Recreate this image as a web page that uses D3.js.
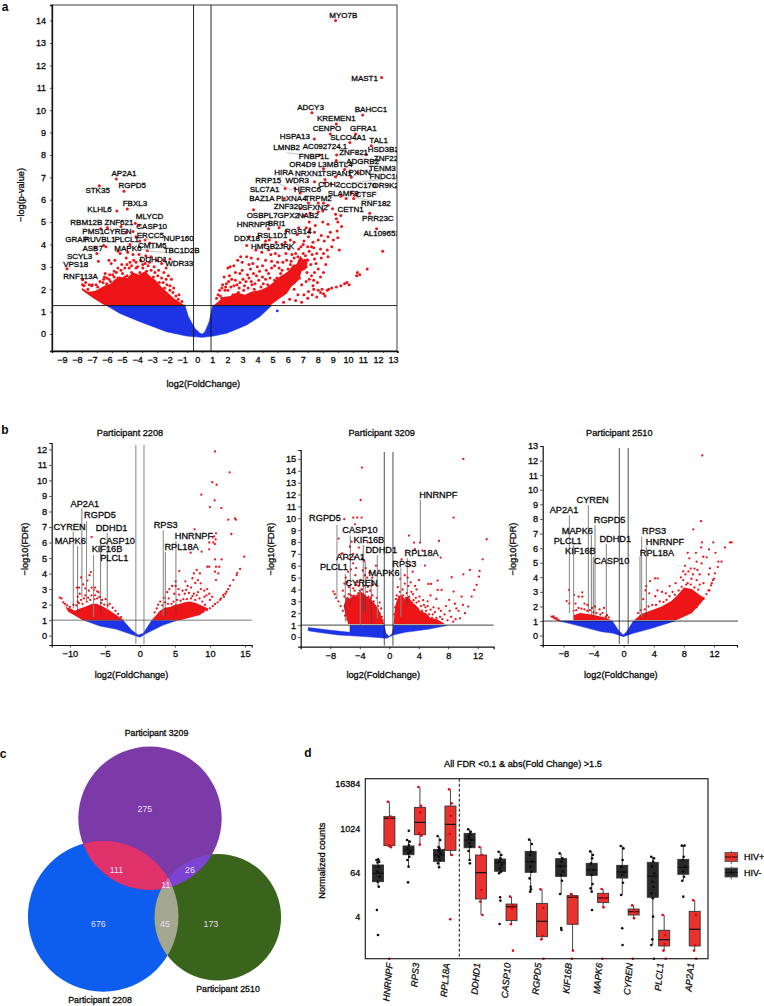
<!DOCTYPE html>
<html><head><meta charset="utf-8">
<script src="https://cdn.jsdelivr.net/npm/d3@7/dist/d3.min.js"></script>
<style>
html,body{margin:0;padding:0;background:#fff}
svg{display:block}
text{font-family:"Liberation Sans",Arial,sans-serif;fill:#0a0a0a}
</style></head><body>
<svg id="fig" width="764" height="1006"></svg>
<script>
const RED="#ee1518", BLUE="#1c33e6";

/* ---------- Panel a: values read in axis units (log2FC, -log p) ---------- */
const aXTicks=[-9,-8,-7,-6,-5,-4,-3,-2,-1,0,1,2,3,4,5,6,7,8,9,10,11,12,13];
const aYTicks=[0,1,2,3,4,5,6,7,8,9,10,11,12,13,14];
const aBlueOutline=[[-6.35,1.27],[-1.15,1.27],[-0.93,.78],[-.49,.25],[-.15,.03],[0,0],[.18,.1],[.46,.55],[.69,1.27],[4.6,1.27],[3.83,.78],[2.94,.4],[1.62,.03],[.73,-.09],[0,-.15],[-1.04,-.09],[-2.37,.1],[-4.14,.55],[-5.47,.92]];
const aRedLeftOutline=[[-8,2.05],[-7.6,1.9],[-7.24,1.9],[-6.9,2],[-6.5,2.15],[-6.1,2.25],[-5.8,2.45],[-5.4,2.55],[-5,2.5],[-4.6,2.75],[-4.2,2.65],[-3.8,2.8],[-3.4,2.55],[-3.1,2.4],[-2.7,2.1],[-2.3,1.85],[-1.9,1.6],[-1.15,1.27],[-6.46,1.27],[-7.24,1.6],[-8.01,1.97]];
const aRedRightOutline=[[.75,1.27],[4.5,1.27],[5.16,1.6],[5.6,1.8],[5.93,2.12],[6.4,2.4],[6.6,2.8],[6.9,2.9],[7.04,3.4],[6.75,3.3],[6.5,3.5],[6.25,3.1],[6.04,3.1],[5.7,2.8],[5.49,2.7],[5.1,2.55],[4.71,2.3],[4.3,2.1],[3.83,1.95],[3.3,1.9],[2.83,1.75],[2.3,1.85],[1.84,1.7],[1.4,1.65],[1.06,1.45]];
const aPoints=[
[8.85,14.01],[11.91,11.46],[7.28,9.88],[10.65,9.79],[8.9,9.38],[8.5,8.94],[10.18,8.94],[7.44,8.71],[9.8,8.56],[11.22,8.41],[8.92,8],[10.89,8.02],[7.8,8],[8.9,7.75],[9.45,7.35],[8.05,7.38],[8.85,7.03],[10.35,7.2],[9.9,7],[8.15,6.9],[8.1,6.75],[7.45,6.8],[6.15,6.5],[5.5,6.5],[6.5,6.3],[5.45,6.05],[8.55,6.7],[10.1,6.2],[10.05,6.05],[9.9,6.3],[9.55,6.05],[9.2,6.15],[7.7,5.85],[8.05,5.85],[8.35,5.75],[7.05,5.85],[6.5,5.6],[6.75,5.3],[7.15,5.4],[8.65,5.6],[3.4,5.55],[8,5.5],[7.7,5.45],[8.9,5.15],[9.2,5.3],[9.0,5.0],[9.25,4.8],[11.12,5.4],[11.58,4.7],[11.98,3.7],[10.95,2.9],[10.45,2.65],[10.25,2.6],[10.3,2.75],[8.85,5.35],[8.35,4.9],[8,5],[7.5,4.85],[7.1,5],[6.9,4.75],[6.4,4.75],[5.55,4.6],[5.1,4.75],[4.4,4.7],[6.3,4.45],[7.1,4.55],[7.45,4.55],[7.15,4.7],[7.9,4.4],[8.5,4.55],[8.95,4.6],[8.35,4.35],[9,4.3],[8.7,4.2],[8.1,4.15],[7.7,4.2],[7.35,4.1],[7.05,4.35],[6.75,4.15],[6.1,4.1],[5.85,4.2],[5.5,4.1],[4.9,4.1],[4.45,4.2],[4.2,4.15],[3.1,4.35],[2.95,3.95],[4.15,4],[5.3,4],[5.75,3.8],[6.55,3.9],[7.4,3.85],[7.85,3.8],[8.3,3.75],[8.6,3.9],[9.1,3.75],[7.6,3.6],[7.3,3.55],[7.9,3.4],[8.35,3.45],[8.05,3.6],[7.1,3.7],[5.55,3.6],[5.1,3.5],[4.85,3.6],[4.4,3.75],[3.95,3.65],[3.55,3.75],[3.25,3.4],[2.95,3.45],[2.65,3.2],[2.35,3.3],[2.1,3.05],[1.85,3],[1.7,2.95],[2.55,3.45],[4.2,3.3],[3.7,3.35],[4.6,3.25],[5,3.2],[5.6,3.3],[4.8,3.05],[4.25,2.85],[3.65,3],[3.2,2.9],[2.65,2.85],[2.2,2.75],[1.8,2.6],[1.45,2.55],[1.35,2.2],[1.15,1.95],[1.6,2.25],[2.2,2.4],[2.7,2.45],[3.1,2.5],[3.6,2.6],[4,2.55],[4.4,2.7],[3.3,2.2],[5.2,2.7],[5.6,2.55],[6,2.85],[6.3,3.05],[6.65,3.2],[6.95,2.75],[7.25,2.6],[7.2,3.1],[6.45,2.5],[6.1,2.3],[6.6,2.2],[6.9,2.35],[6.1,2],[5.5,1.85],[6.35,1.75],[6.75,1.75],[7.05,1.9],[7,1.6],[7.4,2],[7.7,1.95],[7.85,1.85],[8.05,1.8],[8.3,1.95],[8.6,2.05],[8.9,2.1],[9.2,2.15],[9.6,2.3],[9.75,2.2],[7.6,1.65],[7.3,1.75],[6.2,1.5],[5.8,1.55],[5.4,1.42],[6.6,1.42],[7.95,2],[8.15,1.7],[8.4,2],[9.45,2.25],
[.95,1.6],[1.05,1.75],[1.2,1.7],[1.3,1.6],[1.3,2.05],[1.5,1.95],[1.55,2.1],[1.7,1.95],[1.9,2.1],[1.75,2.35],[1.95,2.45],[2.1,2.15],[2.3,2.2],[2.45,2.05],[2.5,2.3],[2.8,2.15],[2.9,2.35],[3,2.65],[3.25,2.35],[3.4,2.7],[3.5,2.25],[3.75,2.4],[3.8,2.8],[4.05,2.25],[4.2,2.45],[4.5,2.5],[4.6,2.95],[4.95,2.5],[5.1,2.95],[5.3,2.85],[5.35,3.2],[5.7,2.9],[5.85,3.1],[5.95,3.55],[6.2,3.6],[6.35,3.45],[6.4,3.8],[6.7,3.6],[6.85,3.5],[6.7,4],[7,3.9],[7.25,3.9],[7.45,3.35],[7.55,3.15],[7.7,2.9],[7.45,2.75],[7.1,2.45],[7.4,2.4],[7.65,2.3],[7.85,2.55],[8.05,2.75],[8.2,3.1],[6.9,3],[7.35,2.15],[2.05,1.75],[2.4,1.85],[2.75,1.95],[3.05,2.05],[3.45,2],[3.9,2.1],[4.35,2.2],[4.8,2.4],[5.25,2.45],[5.75,2.65],[6.25,2.7],[6.8,3.3],[5.9,3.25],[4.55,3.55],[3.1,3.1],[2.5,2.7],[3.35,3.15],[4,3.05],[6.55,3.3],[7,3.3],[6.1,3.4],
[-5.71,6.92],[-5.2,6.38],[-6.84,6.62],[-4.98,5.59],[-5.67,5.5],[-4.45,4.95],[-5.4,4.8],[-6.3,4.75],[-4.6,4.58],[-5.05,4.55],[-3.8,4.2],[-4.15,4.15],[-4.4,4.35],[-3.65,3.72],[-2.15,3.35],[-2.55,3.3],[-4.8,4],[-6.4,3.9],[-6.55,3.95],[-7.1,3.85],[-6.9,3.25],[-7,3.6],[-8.98,2.92],[-7.95,2.42],[-6.45,2.7],[-6.5,2.55],[-6.15,2.65],[-6.05,3.15],[-5.8,3.3],[-5.45,3.6],[-5.05,3.4],[-5.6,3.7],[-4.95,3.65],[-4.6,3.55],[-4.2,3.55],[-3.75,3.5],[-3.4,3.45],[-3,3.3],[-2.7,3.15],[-3.5,3.2],[-4.4,3.2],[-3.8,3.15],[-4.8,3.2],[-5.35,3.1],[-5.4,2.85],[-4.85,2.95],[-2.9,2.85],[-2.55,2.75],[-2.25,2.6],[-2.05,2.45],[-2.4,2.45],[-1.9,2.05],[-2.15,2.15],[-1.55,1.75],[-1.35,1.45],[-6.6,2.3],[-6.95,2.1],[-7.3,2.2],[-7.6,2],[-7.85,2.15],[-7.2,1.85],[-6.1,2.35],[-5.85,2.55],[-5.5,2.5],[-5.85,2.8],[-4.4,2.95],[-3.95,2.95],[-3.2,3],[-2.4,2.95],[-4.2,4.85],[-3.5,4.05],[-6.75,4.7],[-6.2,3.3],
[-7.95,2.2],[-7.75,2.3],[-7.5,2.2],[-7.35,2.15],[-7.05,2.2],[-6.8,2.35],[-6.55,2.45],[-6.35,2.5],[-6.2,2.45],[-5.95,2.65],[-5.7,2.75],[-5.6,2.95],[-5.3,2.7],[-5.15,2.95],[-5,3.1],[-4.7,3.05],[-4.55,3.3],[-4.3,3],[-4.1,3.3],[-3.95,3.1],[-3.6,3.05],[-3.4,2.85],[-3.15,2.75],[-2.95,2.6],[-2.7,2.5],[-2.6,2.3],[-2.35,2.2],[-2.15,1.95],[-1.95,1.85],[-1.75,1.7],[-1.6,1.55],[-5,2.6],[-4.7,2.75],[-4.15,2.75],[-3.7,2.8],[-3.25,2.55],[-2.85,2.3],[-2.5,2.05],[-6.35,2.25],[-5.6,2.5],[-5.15,2.55]
];
const aLabels=[["MYO7B",9.36,14.24],["MAST1",10.78,11.42],["ADCY3",7.19,10.12],["BAHCC1",11.2,10.05],["KREMEN1",8.9,9.62],["CENPO",8.28,9.2],["GFRA1",10.69,9.18],["HSPA13",6.15,8.81],["SLCO4A1",9.69,8.77],["TAL1",11.71,8.65],["AC092724.1",8.15,8.36],["LMNB2",5.6,8.32],["HSD3B2",12.02,8.23],["ZNF821",10.05,8.09],["FNBP1L",7.41,7.93],["ZNF22",12.2,7.84],["ADGRB2",10.65,7.72],["OR4D9",6.66,7.57],["L3MBTL4",8.83,7.57],["TENM3",11.95,7.38],["PXDN",10.45,7.23],["HIRA",5.42,7.22],["NRXN1",7.06,7.19],["TSPAN1",8.92,7.17],["FNDC10",12.13,7.02],["RRP15",4.38,6.84],["WDR3",6.31,6.84],["CDH2",8.43,6.66],["CCDC170",10.36,6.65],["OR9K2",12.17,6.62],["SLC7A1",4.14,6.44],["HERC6",6.99,6.47],["SLAMF9",9.36,6.28],["CTSF",10.87,6.22],["BAZ1A",3.96,6.04],["PLXNA4",5.91,6.07],["TRPM2",7.7,6.07],["RNF182",11.53,5.84],["ZNF320",5.71,5.68],["SFXN2",7.48,5.65],["CETN1",9.85,5.58],["OSBPL7",3.98,5.28],["GPX2",5.71,5.28],["NAB2",7.04,5.28],["PRR23C",11.66,5.16],["HNRNPF",3.39,4.87],["BRI1",4.94,4.92],["RGS14",6.37,4.58],["AL109653",11.91,4.47],["RSL1D1",4.65,4.41],["DDX18",2.97,4.26],["HMGB2",4.18,3.91],["JRK",5.6,3.89],
["AP2A1",-5.2,7.16],["RGPD5",-4.65,6.62],["STK35",-6.95,6.43],["FBXL3",-4.47,5.83],["KLHL6",-6.82,5.58],["MLYCD",-3.5,5.26],["RBM12B",-7.7,4.96],["ZNF621",-5.53,4.96],["CASP10",-3.36,4.79],["PMS1",-7.24,4.58],["CYREN",-5.62,4.56],["ERCC5",-3.45,4.4],["NUP160",-1.57,4.28],["GRAP",-8.34,4.2],["RUVBL1",-6.8,4.2],["PLCL1",-5.02,4.2],["ASB7",-7.28,3.83],["MAPK6",-4.94,3.82],["CMTM6",-3.32,3.95],["TBC1D2B",-1.37,3.73],["SCYL3",-8.15,3.47],["DDHD1",-3.25,3.35],["WDR33",-1.53,3.13],["VPS18",-8.41,3.12],["RNF113A",-8.08,2.56]];
const aLinks=[[5.6,8.1,7.3,7.95],[11,7.35,9.9,7],[11.9,6.9,9.9,6.75],[11.25,5.95,10.2,6.1],[6.2,6.7,7,6.45],[4.9,6.8,6,6.4],[-3,4.3,-3.9,4.2],[-2.7,3.9,-4.1,3.75],[-1.3,3.6,-3.7,3.7]];

/* ---------- Panel b: three volcano plots (log2FC, -log10 FDR) ---------- */
const b1XTicks=[-10,-5,0,5,10,15], b1YTicks=[0,1,2,3,4,5,6,7,8,9,10,11,12];
const b1Blue=[[-7.86,.97],[-2.38,.97],[-1.19,.36],[-.24,.04],[.48,.15],[1.67,.97],[5.24,.97],[3.33,.69],[.95,.15],[0,-.1],[-.95,.04],[-3.33,.41],[-5.71,.62]];
const b1RedLeft=[[-11.2,2.3],[-10.71,1.87],[-9.9,1.75],[-9.29,1.6],[-8.6,1.75],[-7.9,1.85],[-7.4,1.95],[-6.8,2.05],[-6.19,2.05],[-5.6,1.95],[-4.76,1.75],[-3.57,1.4],[-2.29,1],[-8.1,.97],[-10.24,1.54]];
const b1RedRight=[[1.67,1],[2.86,1.6],[3.5,1.8],[4.29,1.85],[5,2],[5.71,2.05],[6.4,2.15],[7.14,2.2],[8,2.1],[8.8,1.95],[9.76,1.75],[8.57,1.33],[5.71,1]];
const b1Points=[[10.71,11.87],[12.81,10.52],[10.33,9.89],[10.95,9.72],[8.76,9.08],[10.67,8.71],[10,8.28],[11.62,8.22],[12.62,7.47],[13.57,7.55],[13.7,7.47],[13.05,6.55],[10.86,6.59],[10.6,6.4],[10.38,6.33],[10.81,6.2],[9.9,6],[10.48,6],[7.81,6.85],[10.71,5.9],[8.81,5.41],[7.24,5.34],[9.9,5.56],[10.71,4.91],[11.67,4.91],[11.33,4.44],[10.86,4.44],[9.62,4.44],[9.9,4.44],[10.71,4.12],[11.19,4.01],[8.57,4.01],[7.71,4.01],[8.1,4.23],[5.62,4.16],[8.29,3.58],[8.67,3.37],[10.86,3.58],[14.9,5.09],[13.81,3.91],[13.33,3.58],[12.86,3.22],[12.38,2.83],[11.9,2.62],[11.43,2.3],[10.71,2.04],[10,1.76],[9.05,1.55],[7.5,3.7],[7.9,3.4],[8.7,3],[9.2,2.9],[9.6,3],[7.3,3.1],[6.8,3.2],[6.6,2.95],[6.1,2.9],[5.5,3],[5.1,3.2],[4.6,3.2],[4.2,3],[3.9,2.8],[4.9,2.7],[5.6,2.65],[6.4,2.7],[7,2.75],[7.7,2.7],[8.3,2.8],[9.2,2.5],[9.5,2.6],[3.4,2.45],[2.9,2.2],[2.6,2],[4.1,2.4],[8.9,2.2],[13.9,4.05],[14.3,4.3],[12.2,2.7],[6.5,3.5],[5.1,3.5],
[12.6,3],[12,2.5],[11.6,2.4],[11.1,2.15],[10.4,1.9],[9.6,1.65],[9.3,2],[10,2.3],[8.5,2.4],[7.9,2.3],[7.3,2.4],[6.7,2.35],[6.2,2.35],[5.8,2.25],[5.3,2.3],[4.8,2.2],[4.5,2.05],[4,2.05],[3.6,2.15],[3.2,1.95],[2.4,1.75],[2.1,1.5],[9.9,2.7],[10.3,2.5],[8.1,2.6],[7.5,2.55],
[-6.9,6.35],[-8.4,3.75],[-7,4.1],[-7.2,3.9],[-7.5,3.55],[-8.1,3.3],[-7.8,3.05],[-8.7,3.1],[-9.0,3.1],[-8.6,2.7],[-8.9,2.5],[-6.9,3.1],[-6.4,3.1],[-6.6,2.95],[-6.1,2.85],[-7.3,2.9],[-7.8,2.6],[-6.9,2.6],[-5.8,2.5],[-5.4,2.3],[-4.9,2.35],[-4.3,2.05],[-3.9,1.8],[-8.4,2.3],[-9.5,2],[-5.9,2.8],
[-11.45,2.45],[-11.2,2.4],[-10.95,2.15],[-10.7,2.05],[-10.4,1.95],[-10,1.85],[-9.1,1.95],[-8.7,2.1],[-8.2,2.05],[-7.6,2.2],[-7.1,2.3],[-6.5,2.35],[-6.1,2.4],[-6.4,2.6],[-5.5,2.1],[-5.1,2],[-4.6,1.95],[-3.5,1.6],[-3.1,1.4],[-2.7,1.2],[-7.4,2.45],[-8,2.4],[-8.9,2.2]];
const b1Labels=[["AP2A1",-7.86,8.48],["RGPD5",-5.71,7.77],["CYREN",-10.05,7.02],["DDHD1",-4.05,6.91],["RPS3",3.67,7.1],["HNRNPF",7.71,6.44],["CASP10",-3.24,6.12],["MAPK6",-9.95,6.09],["RPL18A",5.95,5.73],["KIF16B",-4.71,5.56],["PLCL1",-3.67,4.98]];
const b1Segs=[[-8.29,8.2,2.5],[-7.62,7.38,2.2],[-9.52,6.7,1.75],[-8.9,5.77,1.44],[-6.62,5.2,1.2],[-5.62,6.15,1.4],[-4.67,6.6,1.76],[3.33,6.8,1.3],[3.62,5.4,1.3],[5.14,6.1,1.44]];

const b2XTicks=[-8,-4,0,4,8,12], b2YTicks=[0,1,2,3,4,5,6,7,8,9,10,11,12,13,14,15];
const b2Blue=[[-11,.79],[-8.28,.59],[-5.34,.39],[-5.34,.96],[-.68,.96],[-.45,.31],[0,.03],[.41,.31],[.59,.96],[7.78,.96],[5.29,.65],[2.13,.39],[.54,.17],[-.36,-.11],[-3.3,.03],[-6.92,.17],[-9.64,.39],[-11,.53]];
const b2RedLeft=[[-6.2,2.6],[-5.7,3.4],[-5.3,3.2],[-4.9,3.6],[-4.4,3.4],[-3.9,3.9],[-3.3,3.5],[-2.7,3.3],[-2.1,2.9],[-1.49,2.4],[-1,1.6],[-.68,1.1],[-5.6,1.1]];
const b2RedRight=[[.59,1.1],[.8,2.6],[1.1,3.2],[1.6,3.6],[2.1,3.2],[2.6,3.4],[3.1,2.9],[3.6,2.7],[4.2,2.2],[5,2],[5.6,1.6],[6.5,1.5],[7.56,1.1]];
const b2Points=[[10.05,15],[-3.71,14.27],[-3.89,11.54],[8.73,10.06],[-4.89,10.06],[-4.34,10.06],[-3.76,10.06],[-6.11,9.92],[-4.66,9.49],[-6.88,8.29],[2.67,8.54],[3.35,7.95],[4.16,7.95],[6.74,8.09],[13.21,8.23],[-5.11,8.03],[-2.94,7.98],[-5.34,7.61],[-4.12,7.53],[-6.38,7.05],[3.48,7.39],[4.48,7.28],[6.97,6.69],[12.67,6.54],[4.84,6.01],[2.81,6.07],[1.67,6.54],[3.17,5.5],[10.95,5.65],[10.05,5.28],[12.26,5.56],[12.17,5.08],[8.46,5.03],[6.56,4.75],[4.03,4.8],[5.29,4.47],[5.66,4.47],[11.86,4.38],[11.54,3.96],[11.18,3.4],[10.72,2.56],[10.27,2],[9.59,1.57],[8.69,1.29],[8.73,3.82],[9.82,3.4],[8.14,3.12],[7.1,3.96],[6.56,3.96],[8.9,2.8],[10,2.7],[7.7,2.6],[6.4,3.2],[5.6,3.5],[5.2,3],[4.7,2.7],[6,2.5],[7,2.2],[8.2,2.2],[5,2.2],[5.9,1.9],[6.9,1.7],[3.7,4],[2.6,4.3],[1.8,4],[3.2,3.6],[1,3.5],[1.2,3],[3.6,3.3],[2.9,4.6],[2.1,5.2],[4.1,3.4],
[.8,2.5],[.9,3.2],[1.05,2.8],[1.15,4.2],[1.3,3.4],[1.45,3.8],[1.6,3.2],[1.7,2.9],[1.9,3.5],[2,3],[2.1,4.5],[2.25,3.3],[2.35,3.7],[2.5,3.1],[2.7,3.4],[2.85,3],[3,3.8],[3.1,2.9],[3.3,3.1],[3.45,2.6],[3.7,2.9],[3.85,2.4],[4,3],[4.3,2.6],[4.45,2.2],[4.6,3.1],[4.9,2.5],[5.2,2.6],[5.4,1.9],[5.6,2.3],[5.8,1.6],[6.2,2.1],[6.4,1.6],[6.7,2.4],[7.2,1.5],[7.5,1.9],[7.9,1.4],[8.4,1.7],[9,1.5],[9.4,2.2],[9.1,2.4],[1.5,4.9],[2.5,5],[3.5,4.3],[2.3,3],[1.1,2.4],[.7,1.9],
[-7.6,3.82],[-7.4,3.6],[-7.2,3.3],[-6.9,3],[-6.6,2.6],[-6.3,2.2],[-6,1.8],[-5.7,1.5],[-6.1,4.5],[-5.9,5],[-5.6,5.5],[-5.2,5.7],[-4.9,6.2],[-4.6,5.2],[-4.3,4.6],[-5.5,4.2],[-4.9,4.1],[-4.5,4.4],[-3.9,4.8],[-3.4,6.4],[-3.2,5.8],[-3,5],[-3.5,4.3],[-2.9,4.2],[-2.6,3.9],[-2.2,4.4],[-1.8,6],[-1.6,4.3],[-2.3,3.5],[-1.7,3.3],[-1.3,2.9],[-1.1,2.4],[-6.5,7],[-4.9,7],[-4.7,6.7],[-3.7,6.6],[-5.6,6.6],[-5.5,3.6],[-4.2,3.7],[-3.6,3.6],[-2.8,3.4],
[-6.1,3.4],[-5.8,3.2],[-5.7,2.7],[-5.4,3.1],[-5.2,3.5],[-5.1,3],[-4.9,3.4],[-4.7,3.9],[-4.6,3.2],[-4.4,3.5],[-4.2,3.2],[-4,3.9],[-3.8,3.3],[-3.7,4],[-3.4,3.5],[-3.2,3.2],[-3,3.8],[-3,3],[-2.7,3],[-2.5,3.3],[-2.4,2.8],[-2.1,3],[-2,2.6],[-1.8,2.4],[-1.5,2.6],[-1.3,2],[-1,1.7],[-.9,1.4],[-6.3,3.9],[-5.7,4.6],[-4.2,4.3],[-3.3,5.2],[-3.6,5.6],[-4.5,5.8],[-2.3,5],[-2.7,5.4]];
const b2Labels=[["HNRNPF",6.65,11.99],["RGPD5",-8.73,10.03],["CASP10",-3.98,8.99],["KIF16B",-2.76,8.15],["DDHD1",-1.09,7.3],["RPL18A",4.39,7.05],["AP2A1",-5.25,6.71],["RPS3",2.04,6.18],["PLCL1",-7.51,5.93],["MAPK6",-.72,5.37],["CYREN",-3.76,4.52]];
const b2Segs=[[4.21,11.55,7.9],[-7.1,9.44,3.26],[-5.29,8.54,2.7],[-3.53,7.75,2.13],[-1.63,6.9,1.57],[2.44,6.63,2.7],[-3.26,6.35,2],[1.58,5.79,1.71],[-5.97,5.31,1.29],[-2.44,4.94,1.15],[-3.94,4.1,1.01]];

const b3XTicks=[-8,-4,0,4,8,12], b3YTicks=[0,1,2,3,4,5,6,7,8,9,10,11,12,13];
const b3Blue=[[-8.45,1],[-1.5,1],[-.71,.39],[-.07,.05],[.4,.27],[1.28,1],[6.81,1],[3.72,.5],[1.28,.16],[-.04,-.07],[-1.37,.16],[-2.92,.27],[-5.58,.62]];
const b3RedLeft=[[-6.68,1.4],[-5.8,1.55],[-4.25,1.45],[-2.48,1.25],[-1.68,1.07],[-6.68,1.07]];
const b3RedRight=[[1.42,1.07],[2.39,1.5],[3.72,1.75],[5.04,2],[6.37,2.4],[7.2,2.8],[8,3.3],[9.03,3.2],[10.35,2.7],[10.8,2.6],[10.2,2.2],[9.03,1.53],[7.04,1.07]];
const b3Points=[[10.44,12.35],[10.27,7.85],[9.25,7.28],[10.4,6.39],[11.9,6.39],[14.11,6.39],[14.34,6.39],[13.45,6.05],[10.3,6.05],[11.33,5.91],[9.6,5.68],[8.5,5.68],[10.58,5.41],[11.02,5.37],[12.57,5.07],[13,5.07],[12.2,5.68],[8.72,5.3],[9.69,5.07],[10.35,4.95],[8.14,4.79],[11.46,4.61],[12.12,4.27],[4.16,3.93],[4.51,3.93],[3.5,3.74],[7.92,3.81],[8.6,4.4],[9.2,4.2],[9.8,4.5],[10.1,4.2],[8.2,4.2],[7.6,4],[9,3.9],[9.7,3.8],[10.6,3.6],[11.3,4.2],[11.7,3.6],[11.4,3.1],[12,3.9],[12.5,4.7],[3,3.4],[2.9,3.1],[4.5,3.1],[5.1,3],[6.1,3.4],[6.9,3.6],[2.6,2.5],[3.4,2.9],[4.2,2.7],[5.6,2.9],
[11,2.85],[11.25,3.1],[11.6,3.45],[11.85,3.8],[10.6,2.5],[10.2,2.3],[9.7,1.95],[8.5,3.6],[8.9,3.5],[9.4,3.3],[9.9,3.15],[10.1,3.5],[8.3,3.5],[7.7,3.35],[7.3,3.1],[6.8,2.8],[6.5,3],[6.1,2.7],[5.7,2.45],[5.3,2.3],[4.8,2.35],[4.3,2.1],[3.8,2.1],[3.3,2],[2.8,1.8],[2.3,1.75],[1.9,1.55],[8.9,4.6],[9.4,4.6],[7.9,4.4],
[-7.26,3.13],[-5.49,2.97],[-6.59,2.79],[-5.98,2.67],[-7.57,2.37],[-7.21,2.21],[-5.49,2.67],[-6.4,2.2],[-5.2,2.2],[-4.8,2.1],[-3.8,2],[-3.2,1.8],[-2.6,1.9],[-2.2,1.4],[-4.2,1.9],[-9.56,1.3],[-9.4,1.28],[-9.2,1.2],[-9,1.15],[-8.8,1.1],[-8.6,1.05],[-9.3,1.32],[-8.9,1.2],
[-6.65,1.7],[-6.3,1.75],[-6,1.9],[-5.6,1.85],[-5.2,1.8],[-4.85,1.7],[-4.5,1.75],[-4,1.6],[-3.6,1.55],[-3.1,1.45],[-2.8,1.55],[-2.4,1.3],[-2,1.25]];
const b3Labels=[["CYREN",-4.12,9.27],["AP2A1",-7.92,8.58],["RGPD5",-1.86,7.92],["MAPK6",-6.15,7.19],["RPS3",4.03,7.17],["PLCL1",-7.43,6.51],["DDHD1",-1.11,6.6],["HNRNPF",5.49,6.39],["RPL18A",4.42,5.68],["KIF16B",-5.75,5.78],["CASP10",-1.59,5.09]];
const b3Segs=[[-4.69,8.95,1.53],[-7.21,8.26,1.53],[-3.8,7.58,1.42],[-4.29,6.89,1.42],[-6.64,6.21,1.3],[-4.03,5.41,1.3],[-2.3,6.28,1.19],[2.39,6.78,1.3],[2.17,5.41,1.3],[3.01,6.1,1.19]];

/* ---------- Panel c: Venn ---------- */
const vennNames=["Participant 2208","Participant 3209","Participant 2510"];
const vennCircles=[[34.4,32.7,25.1],[50,0,23.9],[72.6,33,21.1]];      // cx, cy, r in diagram units
const vennCounts=[["275",48.3,-3],["111",38.8,17.2],["26",63.3,17.2],["11",55.3,22.2],["676",32.8,35.1],["45",55,35.1],["173",70.3,35.1]];

/* ---------- Panel d: boxplots (log2 normalized counts) ---------- */
const dGenes=["HNRNPF","RPS3","RPL18A","DDHD1","CASP10","RGPD5","KIF16B","MAPK6","CYREN","PLCL1","AP2A1"];
const dYTicks=[2,6,10,14];
// q1, median, q3, whisker low, whisker high
const dBoxNeg=[[5.16,5.92,6.67,4.71,7.18],[7.6,8.02,8.39,6.52,8.93],[7,7.57,8.08,6.46,9.23],[8.23,8.93,9.53,7.12,9.89],[6.1,6.88,7.21,5.92,7.87],[6.01,6.97,7.9,4.2,8.96],[5.64,6.58,7.24,4.05,7.72],[5.73,6.22,6.82,4.26,7.9],[5.49,6.04,6.64,3.96,8.39],[3.75,5.67,6.91,-.56,7.42],[5.83,6.46,7.18,5.25,8.42]];
const dBoxPos=[[8.42,10.89,11.04,8.27,12.39],[9.41,10.52,11.88,8.48,13.72],[7.99,10.34,12,7.51,13.51],[3.6,5.98,7.57,2.15,8.3],[1.64,2.9,3.14,1.28,3.81],[.19,1.58,3.2,-.11,4.47],[1.31,3.75,3.9,-1.07,4.05],[3.27,3.69,4.11,2.84,4.5],[2.15,2.45,2.69,1.85,3.02],[-.65,-.08,.77,-1.07,2.15],[-.65,.86,2.48,-1.07,3.48]];
const dPtsNeg=[[7.12,6.97,6.52,6.07,5.61,5.16,4.71,2.6,.34,7.18,6.9],[8.93,8.78,8.48,8.17,7.87,7.72,7.42,7.12,6.52,9.77,5.1],[9.29,8.93,8.17,8.02,7.72,7.42,7.12,6.82,6.46,7.9,8.3],[9.89,9.68,9.47,9.23,8.93,8.63,8.33,7.93,7.12,6.82,9.1],[7.87,7.57,7.27,6.97,6.67,6.37,6.07,5.92,3.75,3.45,1.34],[8.96,8.57,7.87,7.57,6.97,6.52,6.07,5.46,4.71,4.47,4.26],[7.72,7.27,6.97,6.52,6.07,5.77,5.25,4.05,.98,.8],[7.9,7.57,7.27,6.82,6.22,5.77,4.95,4.56,4.26,2.6],[8.39,8.17,7.12,6.52,6.04,5.77,5.07,3.96,.95,-.56],[7.42,7.27,6.97,6.52,5.92,5.16,4.71,4.11,3.66,2,-.05,-.56,-1.8],[8.42,8.42,7.42,7.12,6.52,6.07,5.61,5.25,3.81]];
const dPtsPos=[[12.39,11.04,10.89,8.42,8.27,-1.8],[13.72,12.03,11.43,9.53,9.32,8.51],[13.51,12.24,11.13,9.47,7.57,1.76],[8.3,7.57,4.41,3.36,2.15],[3.81,3.05,2.75,1.31,-1.07],[4.47,2.78,.28,-.05,-1.8],[4.05,3.81,-1.07,-1.8],[4.5,3.69,2.84,-1.8],[3.02,2.45,1.85,-1.8],[2.15,.34,-.47,-1.07,-1.8],[3.48,2.15,-.56,-1.07,-1.8]];
const dJitter=[-1.5,1.2,.4,-.7,1.5,-.2,.8,-1.1,0,.3,-.5];
const dLegend=["HIV+","HIV-"];

const svg=d3.select("#fig");
const defs=svg.append("defs");
const lineGen=(x,y)=>d3.line().x(d=>x(d[0])).y(d=>y(d[1]));

function styleAxis(g,w,fs){
  g.selectAll("path.domain").attr("stroke","#111").attr("stroke-width",w);
  g.selectAll(".tick line").attr("stroke","#222").attr("stroke-width",.8);
  g.selectAll("text").style("font-size",fs+"px").style("font-family",'"Liberation Sans",Arial,sans-serif')
   .attr("fill","#0a0a0a").attr("stroke","#0a0a0a").attr("stroke-width",.3);
}
function txt(parent,x,y,s,fs,opts={}){
  return parent.append("text").attr("x",x).attr("y",y).attr("text-anchor",opts.anchor||"middle")
    .attr("dominant-baseline","central").style("font-size",fs+"px").attr("stroke",opts.stroke||"#0a0a0a").attr("stroke-width",opts.sw===undefined?.3:opts.sw)
    .attr("font-weight",opts.weight||400).attr("font-style",opts.italic?"italic":"normal")
    .attr("transform",opts.rot?`rotate(${opts.rot} ${x} ${y})`:null).text(s);
}

/* ---------- a ---------- */
(function(){
  const L=52,R=397,T=5,B=351;
  const x=d3.scaleLinear().domain([-9.98,12.93]).range([L,R]);
  const y=d3.scaleLinear().domain([-.76,14.7]).range([351,5]);
  const g=svg.append("g");
  const lg=lineGen(x,y);
  g.append("path").attr("d",lg(aBlueOutline)+"Z").attr("fill",BLUE).attr("stroke",BLUE).attr("stroke-width",.6);
  g.append("path").attr("d",lg(aRedLeftOutline)+"Z").attr("fill",RED);
  g.append("path").attr("d",lg(aRedRightOutline)+"Z").attr("fill",RED);
  g.selectAll("circle.p").data(aPoints).join("circle").attr("cx",d=>x(d[0])).attr("cy",d=>y(d[1])).attr("r",1.5).attr("fill",RED);
  g.append("circle").attr("cx",x(4.98)).attr("cy",y(1.03)).attr("r",1.4).attr("fill",BLUE);
  g.selectAll("line.lnk").data(aLinks).join("line").attr("x1",d=>x(d[0])).attr("y1",d=>y(d[1])).attr("x2",d=>x(d[2])).attr("y2",d=>y(d[3])).attr("stroke","#999").attr("stroke-width",.6);
  g.append("rect").attr("x",L).attr("y",T).attr("width",R-L).attr("height",B-T).attr("fill","none").attr("stroke","#111").attr("stroke-width",.8);
  g.append("line").attr("x1",L).attr("x2",R).attr("y1",y(1.27)).attr("y2",y(1.27)).attr("stroke","#111").attr("stroke-width",.9);
  [-.58,.58].forEach(v=>g.append("line").attr("x1",x(v)).attr("x2",x(v)).attr("y1",T).attr("y2",B).attr("stroke","#111").attr("stroke-width",.9));
  const cid="clipA";
  defs.append("clipPath").attr("id",cid).append("rect").attr("x",L).attr("y",T).attr("width",R-L).attr("height",B-T);
  const lb=g.append("g").attr("clip-path",`url(#${cid})`);
  aLabels.forEach(d=>txt(lb,x(d[1]),y(d[2]),d[0],8));
  const ax=g.append("g").attr("transform",`translate(0,${B})`).call(d3.axisBottom(x).tickValues(aXTicks).tickSize(2).tickPadding(4).tickFormat(d=>d<0?"\u2212"+(-d):d));
  styleAxis(ax,1.3,9); ax.selectAll("text").attr("dx",-5);
  const ay=g.append("g").attr("transform",`translate(${L},0)`).call(d3.axisLeft(y).tickValues(aYTicks).tickSize(2).tickPadding(4));
  styleAxis(ay,1.3,9);
  txt(g,203.3,384,"log2(FoldChange)",9.2);
  txt(g,20.7,195,"\u2212log(p-value)",9.2,{rot:-90});
})();

/* ---------- b ---------- */
function volcano(o){
  const x=d3.scaleLinear().domain(o.xd).range([o.L,o.R]);
  const y=d3.scaleLinear().domain(o.yd).range([o.B,o.T]);
  const g=svg.append("g"), lg=lineGen(x,y);
  g.append("path").attr("d",lg(o.blue)+"Z").attr("fill",BLUE).attr("stroke",BLUE).attr("stroke-width",.5);
  [o.rl,o.rr].forEach(p=>g.append("path").attr("d",lg(p)+"Z").attr("fill",RED));
  g.selectAll("circle").data(o.pts).join("circle").attr("cx",d=>x(d[0])).attr("cy",d=>y(d[1])).attr("r",1.15).attr("fill",RED);
  g.append("line").attr("x1",o.L).attr("x2",o.hEnd).attr("y1",y(1)).attr("y2",y(1)).attr("stroke",o.gray?"#555":"#111").attr("stroke-width",.8);
  o.v.forEach(v=>g.append("line").attr("x1",x(v)).attr("x2",x(v)).attr("y1",o.vTop).attr("y2",o.B-1).attr("stroke",o.gray?"#666":"#222").attr("stroke-width",.8));
  g.selectAll("line.s").data(o.segs).join("line").attr("x1",d=>x(d[0])).attr("x2",d=>x(d[0])).attr("y1",d=>y(d[1])).attr("y2",d=>y(d[2])).attr("stroke",(d,i)=>i%3==1?"#888":"#444").attr("stroke-width",(d,i)=>i%3==1?1:.7);
  o.labels.forEach(d=>txt(g,x(d[1]),y(d[2]),d[0],9.2));
  const ax=g.append("g").attr("transform",`translate(0,${o.B})`).call(d3.axisBottom(x).tickValues(o.xt).tickSize(2.5).tickPadding(3).tickFormat(d=>d<0?"\u2212"+(-d):d));
  styleAxis(ax,1.2,9.2);
  const ay=g.append("g").attr("transform",`translate(${o.L},0)`).call(d3.axisLeft(y).tickValues(o.yt).tickSize(2.5).tickPadding(2));
  styleAxis(ay,1.2,9.2);
  txt(g,o.tx,432.7,o.title,9.2);
  txt(g,o.lx,549,"\u2212log10(FDR)",9.2,{rot:-90});
  txt(g,o.tx+1.5,675,"log2(FoldChange)",9.2);
}
volcano({L:51.7,R:251.7,T:443,B:645,hEnd:251.7,xd:[-12.6,15.96],yd:[-.6,12.41],blue:b1Blue,rl:b1RedLeft,rr:b1RedRight,pts:b1Points,v:[-.58,.58],vTop:445,segs:b1Segs,labels:b1Labels,xt:b1XTicks,yt:b1YTicks,title:"Participant 2208",tx:130,lx:25,gray:true});
volcano({L:300.7,R:493.7,T:450,B:646.7,hEnd:493.7,xd:[-12.02,14.17],yd:[-.82,15.75],blue:b2Blue,rl:b2RedLeft,rr:b2RedRight,pts:b2Points,v:[-.68,.5],vTop:452,segs:b2Segs,labels:b2Labels,xt:b2XTicks,yt:b2YTicks,title:"Participant 3209",tx:381.7,lx:271});
volcano({L:542.7,R:737,T:446,B:645,hEnd:738,xd:[-10.75,15.05],yd:[-.64,13],blue:b3Blue,rl:b3RedLeft,rr:b3RedRight,pts:b3Points,v:[-.58,.6],vTop:448,segs:b3Segs,labels:b3Labels,xt:b3XTicks,yt:b3YTicks,title:"Participant 2510",tx:619.3,lx:513.3});

/* ---------- c ---------- */
(function(){
  const sx=d3.scaleLinear().domain([0,100]).range([0,300]);
  const sy=v=>818.3+sx(v);
  const g=svg.append("g");
  const fills=["#0d5eee","#7b3aa8","#3a631b"];
  vennCircles.forEach((c,i)=>{
    defs.append("clipPath").attr("id","v"+i).append("circle").attr("cx",sx(c[0])).attr("cy",sy(c[1])).attr("r",sx(c[2]));
  });
  vennCircles.forEach((c,i)=>g.append("circle").attr("cx",sx(c[0])).attr("cy",sy(c[1])).attr("r",sx(c[2])).attr("fill",fills[i]));
  const over=(a,b,col)=>{const c=vennCircles[b];
    g.append("g").attr("clip-path",`url(#v${a})`).append("circle").attr("cx",sx(c[0])).attr("cy",sy(c[1])).attr("r",sx(c[2])).attr("fill",col);};
  over(0,1,"#e0316b"); over(1,2,"#7c44d2"); over(0,2,"#a3a78f");
  const tri=g.append("g").attr("clip-path","url(#v0)").append("g").attr("clip-path","url(#v1)");
  const c2=vennCircles[2];
  tri.append("circle").attr("cx",sx(c2[0])).attr("cy",sy(c2[1])).attr("r",sx(c2[2])).attr("fill","#d768b4");
  vennCounts.forEach(d=>txt(g,sx(d[1]),sy(d[2]),d[0],8.8,{sw:0}).style("fill","#e6dff0"));
  txt(g,156.5,732.5,vennNames[1],8.8);
  txt(g,100,1000,vennNames[0],8.8);
  txt(g,228,989,vennNames[2],8.8);
})();

/* ---------- d ---------- */
(function(){
  const L=365.3,R=708,T=778.7,B=958.7;
  const y=d3.scaleLinear().domain([-1.8,14.47]).range([B,T]);
  const x=d3.scalePoint().domain(dGenes).range([383.7,689]);
  const g=svg.append("g");
  const fillN="#2a2a2a", fillP="#e8322e";
  function boxes(data,pts,dx,fill,ptCol){
    dGenes.forEach((n,i)=>{
      const b=data[i], cx=x(n)+dx, w=11;
      g.append("line").attr("x1",cx).attr("x2",cx).attr("y1",y(b[3])).attr("y2",y(b[4])).attr("stroke","#333").attr("stroke-width",.9);
      g.append("rect").attr("x",cx-w/2).attr("y",y(b[2])).attr("width",w).attr("height",y(b[0])-y(b[2])).attr("fill",fill).attr("stroke","#333").attr("stroke-width",.9);
      g.append("line").attr("x1",cx-w/2).attr("x2",cx+w/2).attr("y1",y(b[1])).attr("y2",y(b[1])).attr("stroke","#111").attr("stroke-width",1.2);
      g.selectAll(null).data(pts[i]).join("circle").attr("cx",(d,j)=>cx+dJitter[j%dJitter.length]).attr("cy",d=>y(d)).attr("r",1.3).attr("fill",ptCol);
    });
  }
  boxes(dBoxNeg,dPtsNeg,-5.7,fillN,"#0c0c0c");
  boxes(dBoxPos,dPtsPos,5.7,fillP,"#e5000a");
  g.append("rect").attr("x",L).attr("y",T).attr("width",R-L).attr("height",B-T).attr("fill","none").attr("stroke","#222").attr("stroke-width",1.2);
  g.append("line").attr("x1",459.3).attr("x2",459.3).attr("y1",T).attr("y2",B).attr("stroke","#111").attr("stroke-width",1).attr("stroke-dasharray","3 2");
  const ay=g.append("g").attr("transform",`translate(${L},0)`).call(d3.axisLeft(y).tickValues(dYTicks).tickSize(0).tickPadding(5).tickFormat(d=>Math.pow(2,d)));
  styleAxis(ay,0,9); ay.select("path.domain").remove();
  dGenes.forEach((n,i)=>{
    const px=x(n)+(i===0?6:2);
    g.append("text").attr("transform",`translate(${px},963) rotate(-85)`).attr("text-anchor","end").attr("dominant-baseline","central")
      .attr("font-style","italic").style("font-size","9.2px").attr("stroke","#0a0a0a").attr("stroke-width",.25).text(n);
  });
  txt(g,523,764,"All FDR <0.1 & abs(Fold Change) >1.5",9.2);
  txt(g,321.7,860.7,"Normalized counts",9.2,{rot:-90});
  const lg=[[fillP,"#e5000a",857],[fillN,"#0c0c0c",872.5]];
  lg.forEach((k,i)=>{
    const cx=731.3,cy=k[2];
    g.append("line").attr("x1",cx).attr("x2",cx).attr("y1",cy-6).attr("y2",cy+7).attr("stroke","#333").attr("stroke-width",.8);
    g.append("rect").attr("x",cx-6.3).attr("y",cy-4.5).attr("width",12.6).attr("height",9).attr("fill",k[0]).attr("stroke","#555").attr("stroke-width",.9);
    g.append("line").attr("x1",cx-6.3).attr("x2",cx+6.3).attr("y1",cy).attr("y2",cy).attr("stroke","#111").attr("stroke-width",1);
    g.append("circle").attr("cx",cx).attr("cy",cy).attr("r",1.3).attr("fill",k[1]);
    txt(g,744,cy,dLegend[i],9,{anchor:"start"});
  });
})();

/* ---------- panel letters ---------- */
[["a",5,7],["b",5,430],["c",3,754],["d",308,753]].forEach(d=>txt(svg,d[1],d[2],d[0],12,{weight:700,sw:0}));
</script>
</body></html>
